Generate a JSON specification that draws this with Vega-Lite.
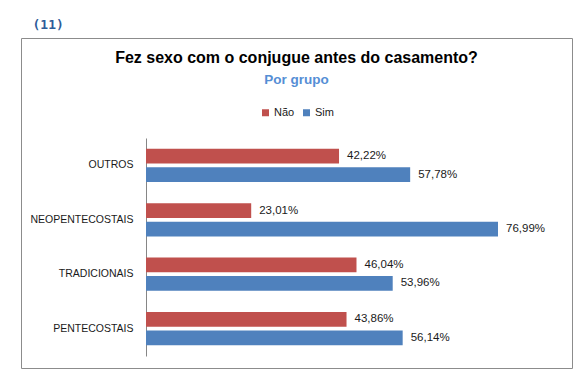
{
  "$schema": "https://vega.github.io/schema/vega-lite/v6.json",
  "padding": {"left": 20, "top": 18, "right": 15, "bottom": 14},
  "title": {"text": "(11)", "anchor": "start", "font": "DejaVu Sans Mono", "fontSize": 13, "fontWeight": "bold", "color": "#2E5C9A", "offset": 6, "dx": 12},
  "data": {
    "values": [
      {"grupo": "OUTROS", "resposta": "Não", "valor": 0.4222},
      {"grupo": "OUTROS", "resposta": "Sim", "valor": 0.5778},
      {"grupo": "NEOPENTECOSTAIS", "resposta": "Não", "valor": 0.2301},
      {"grupo": "NEOPENTECOSTAIS", "resposta": "Sim", "valor": 0.7699},
      {"grupo": "TRADICIONAIS", "resposta": "Não", "valor": 0.4604},
      {"grupo": "TRADICIONAIS", "resposta": "Sim", "valor": 0.5396},
      {"grupo": "PENTECOSTAIS", "resposta": "Não", "valor": 0.4386},
      {"grupo": "PENTECOSTAIS", "resposta": "Sim", "valor": 0.5614}
    ]
  },
  "vconcat": [
    {
      "width": 551,
      "height": 330,
      "title": {
        "text": "Fez sexo com o conjugue antes do casamento?",
        "subtitle": "Por grupo",
        "anchor": "middle",
        "font": "Liberation Sans",
        "fontSize": 16,
        "fontWeight": "bold",
        "color": "#000000",
        "subtitleFont": "Liberation Sans",
        "subtitleFontSize": 13.5,
        "subtitleFontWeight": "bold",
        "subtitleColor": "#558ED5",
        "subtitlePadding": 7,
        "offset": -48
      },
      "encoding": {
        "y": {
          "field": "grupo",
          "type": "nominal",
          "sort": ["OUTROS", "NEOPENTECOSTAIS", "TRADICIONAIS", "PENTECOSTAIS"],
          "scale": {"range": [100, 318], "paddingInner": 0.39, "paddingOuter": 0.2},
          "axis": {
            "title": null,
            "offset": -125,
            "ticks": false,
            "tickSize": 0,
            "labelPadding": 13,
            "labelFont": "Liberation Sans",
            "labelFontSize": 10.5,
            "labelColor": "#1a1a1a",
            "domainColor": "#868686",
            "grid": false
          }
        },
        "yOffset": {
          "field": "resposta",
          "type": "nominal",
          "sort": ["Não", "Sim"],
          "scale": {"paddingInner": 0.2}
        },
        "x": {
          "field": "valor",
          "type": "quantitative",
          "scale": {"domain": [0, 1], "range": [125, 582.2]},
          "axis": null
        }
      },
      "layer": [
        {
          "mark": {"type": "bar"},
          "encoding": {
            "color": {
              "field": "resposta",
              "type": "nominal",
              "sort": ["Não", "Sim"],
              "scale": {"domain": ["Não", "Sim"], "range": ["#C0504D", "#4F81BD"]},
              "legend": {
                "title": null,
                "orient": "none",
                "legendX": 239,
                "legendY": 69,
                "direction": "horizontal",
                "symbolType": "square",
                "symbolSize": 49,
                "symbolStrokeWidth": 0,
                "labelFont": "Liberation Sans",
                "labelFontSize": 11,
                "labelColor": "#1a1a1a",
                "labelOffset": 3,
                "columnPadding": 6
              }
            }
          }
        },
        {
          "mark": {"type": "text", "align": "left", "baseline": "middle", "dx": 8, "font": "Liberation Sans", "fontSize": 11.5, "color": "#1a1a1a"},
          "encoding": {
            "text": {"field": "valor", "type": "quantitative", "format": ".2%"}
          }
        }
      ]
    }
  ],
  "config": {
    "view": {"stroke": "#8c8c8c", "strokeWidth": 1},
    "locale": {
      "number": {"decimal": ",", "thousands": ".", "grouping": [3], "currency": ["R$", ""]}
    }
  }
}
